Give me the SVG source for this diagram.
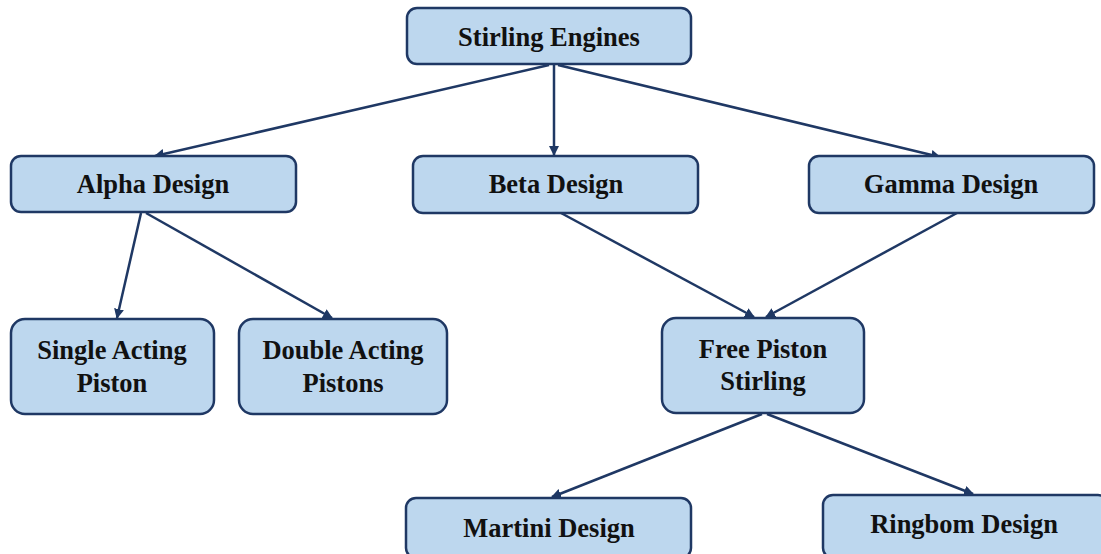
<svg xmlns="http://www.w3.org/2000/svg" width="1101" height="554" viewBox="0 0 1101 554">
<style>
.box{fill:#bdd7ee;stroke:#1f3864;stroke-width:2.5}
.t{font-family:'Liberation Serif',serif;font-weight:700;font-size:26.5px;fill:#111;text-anchor:middle}
.c{stroke:#1f3864;stroke-width:2.5;fill:none;marker-end:url(#ah)}
</style>
<defs>
<marker id="ah" markerWidth="10" markerHeight="10" refX="9" refY="5" orient="auto" markerUnits="userSpaceOnUse" viewBox="0 0 10 10">
<path d="M0,0 L10,5 L0,10 z" fill="#1f3864"/>
</marker>
</defs>
<rect width="1101" height="554" fill="#fff"/>
<g id="connectors">
<line class="c" x1="549" y1="65" x2="155" y2="156"/>
<line class="c" x1="554" y1="65" x2="554" y2="155"/>
<line class="c" x1="558" y1="65" x2="940" y2="157"/>
<line class="c" x1="141" y1="213" x2="117" y2="318"/>
<line class="c" x1="146" y1="213" x2="332" y2="318"/>
<line class="c" x1="561" y1="213" x2="754" y2="317"/>
<line class="c" x1="957" y1="213" x2="766" y2="317"/>
<line class="c" x1="762" y1="414" x2="552" y2="497"/>
<line class="c" x1="767" y1="414" x2="973" y2="494"/>
</g>
<g id="stirling">
<rect class="box" x="407" y="8" width="284" height="56" rx="10"/>
<text class="t" x="549" y="46">Stirling Engines</text>
</g>
<g id="alpha">
<rect class="box" x="11" y="156" width="285" height="56" rx="10"/>
<text class="t" x="153" y="193">Alpha Design</text>
</g>
<g id="beta">
<rect class="box" x="413" y="156" width="285" height="57" rx="10"/>
<text class="t" x="556" y="193">Beta Design</text>
</g>
<g id="gamma">
<rect class="box" x="809" y="156" width="285" height="57" rx="10"/>
<text class="t" x="951" y="193">Gamma Design</text>
</g>
<g id="single">
<rect class="box" x="11" y="319" width="203" height="95" rx="14"/>
<text class="t" x="112" y="359">Single Acting</text>
<text class="t" x="112" y="392">Piston</text>
</g>
<g id="double">
<rect class="box" x="239" y="319" width="208" height="95" rx="14"/>
<text class="t" x="343" y="359">Double Acting</text>
<text class="t" x="343" y="392">Pistons</text>
</g>
<g id="freepiston">
<rect class="box" x="662" y="318" width="202" height="95" rx="14"/>
<text class="t" x="763" y="358">Free Piston</text>
<text class="t" x="763" y="390">Stirling</text>
</g>
<g id="martini">
<rect class="box" x="406" y="498" width="285" height="60" rx="10"/>
<text class="t" x="549" y="537">Martini Design</text>
</g>
<g id="ringbom">
<rect class="box" x="823" y="495" width="285" height="63" rx="10"/>
<text class="t" x="964" y="533">Ringbom Design</text>
</g>
</svg>
